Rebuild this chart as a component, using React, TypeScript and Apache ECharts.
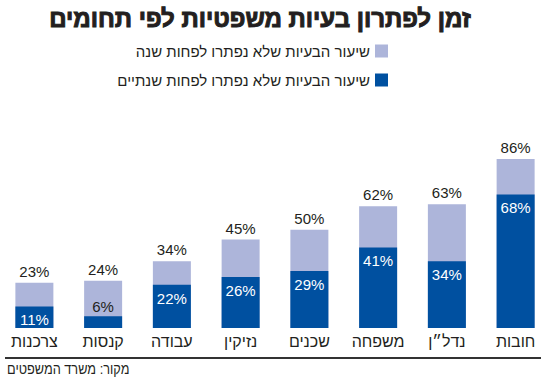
import React, { useEffect, useRef } from "react";
import * as echarts from "echarts";

const categories = ["חובות", "נדל״ן", "משפחה", "שכנים", "נזיקין", "עבודה", "קנסות", "צרכנות"];
const atLeastYear = [86, 63, 62, 50, 45, 34, 24, 23];
const atLeastTwoYears = [68, 34, 41, 29, 26, 22, 6, 11];
const seriesNames = ["שיעור הבעיות שלא נפתרו לפחות שנה", "שיעור הבעיות שלא נפתרו לפחות שנתיים"];
const titleText = "זמן לפתרון בעיות משפטיות לפי תחומים";
const sourceText = "מקור: משרד המשפטים";

const LIGHT = "#adb5da";
const DARK = "#0050a0";
const INK = "#231f20";
const FONT = "'Liberation Sans', 'DejaVu Sans', sans-serif";

export default function App() {
  const ref = useRef<HTMLDivElement>(null);
  useEffect(() => {
    if (!ref.current) return;
    const chart = echarts.init(ref.current, null, { renderer: "svg" });
    chart.setOption({
      animation: false,
      backgroundColor: "#ffffff",
      textStyle: { fontFamily: FONT },
      legend: {
        orient: "vertical",
        right: 157,
        top: 37,
        align: "right",
        itemWidth: 13,
        itemHeight: 13,
        itemGap: 11,
        icon: "rect",
        textStyle: { fontSize: 15, color: INK, fontFamily: FONT, lineHeight: 18 },
        data: seriesNames,
      },
      grid: { left: -5, right: -1, top: 131.5, bottom: 54, containLabel: false },
      xAxis: {
        type: "category",
        inverse: true,
        data: categories,
        axisLine: { show: false },
        axisTick: { show: false },
        axisLabel: { fontSize: 16, color: INK, margin: 5, interval: 0, fontFamily: FONT },
      },
      yAxis: { type: "value", min: 0, max: 100, show: false, splitLine: { show: false } },
      series: [
        {
          name: seriesNames[0],
          type: "bar",
          data: atLeastYear,
          barWidth: 38,
          barGap: "-100%",
          itemStyle: { color: LIGHT },
          label: {
            show: true,
            position: "top",
            distance: 4,
            formatter: "{c}%",
            fontSize: 15,
            color: INK,
            fontFamily: FONT,
          },
        },
        {
          name: seriesNames[1],
          type: "bar",
          data: atLeastTwoYears.map((v) =>
            v < 10
              ? { value: v, label: { position: "top", color: INK, distance: 2 } }
              : { value: v }
          ),
          barWidth: 38,
          barGap: "-100%",
          itemStyle: { color: DARK },
          label: {
            show: true,
            position: "insideTop",
            distance: 6,
            formatter: "{c}%",
            fontSize: 15,
            color: "#ffffff",
            fontFamily: FONT,
          },
        },
      ],
      graphic: [
        {
          type: "text",
          x: 260,
          y: 18,
          style: {
            text: titleText,
            fontSize: 24,
            fontWeight: "bold",
            fill: INK,
            stroke: INK,
            lineWidth: 1,
            fontFamily: FONT,
            align: "center",
            verticalAlign: "middle",
          },
        },
        {
          type: "line",
          shape: { x1: 5, y1: 358, x2: 541, y2: 358 },
          style: { stroke: "#333333", lineWidth: 2 },
        },
        {
          type: "text",
          x: 7,
          y: 369,
          scaleX: 0.85,
          style: {
            text: sourceText,
            fontSize: 15,
            fill: INK,
            fontFamily: FONT,
            align: "left",
            verticalAlign: "middle",
          },
        },
      ],
    });
    return () => chart.dispose();
  }, []);
  return <div ref={ref} style={{ width: 550, height: 382, position: "absolute", left: 0, top: 0 }} />;
}
